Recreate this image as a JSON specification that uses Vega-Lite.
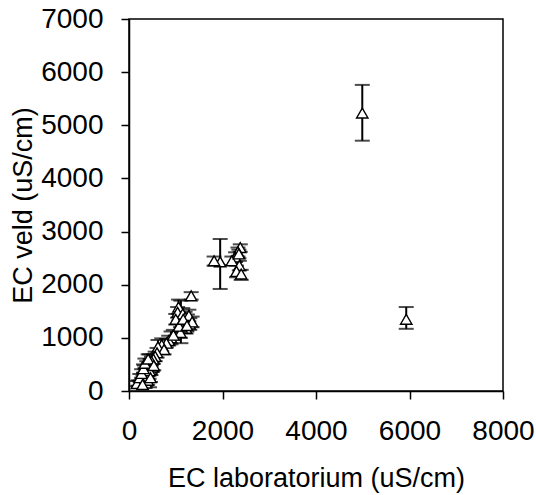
{
  "$schema": "https://vega.github.io/schema/vega-lite/v6.json",
  "autosize": "none",
  "width": 374,
  "height": 372,
  "padding": {"left": 129, "top": 19, "right": 33, "bottom": 104},
  "background": "white",
  "config": {
    "font": "Liberation Sans",
    "view": {"stroke": "black", "strokeWidth": 1.5},
    "axis": {
      "grid": false,
      "domainColor": "black",
      "domainWidth": 1.5,
      "tickColor": "black",
      "tickWidth": 1.5,
      "tickSize": 8,
      "labelColor": "black",
      "labelFont": "Liberation Sans",
      "labelFontSize": 28,
      "titleFont": "Liberation Sans",
      "titleFontSize": 27,
      "titleFontWeight": "normal",
      "titleColor": "black",
      "labelFlush": false,
      "labelOverlap": false,
      "format": "d"
    }
  },
  "data": {
    "values": [
      {"lab": 4990, "veld": 5230, "lo": 4710, "hi": 5760},
      {"lab": 5930, "veld": 1350, "lo": 1170, "hi": 1580},
      {"lab": 1950, "veld": 2430, "lo": 1920, "hi": 2860},
      {"lab": 1820, "veld": 2450, "lo": 2360, "hi": 2530},
      {"lab": 2380, "veld": 2700, "lo": 2620, "hi": 2760},
      {"lab": 2330, "veld": 2620, "lo": 2530, "hi": 2700},
      {"lab": 2280, "veld": 2520, "lo": 2430, "hi": 2610},
      {"lab": 2200, "veld": 2450, "lo": 2370, "hi": 2530},
      {"lab": 2360, "veld": 2360, "lo": 2270, "hi": 2450},
      {"lab": 2300, "veld": 2250, "lo": 2140, "hi": 2360},
      {"lab": 2400, "veld": 2200, "lo": 2090, "hi": 2280},
      {"lab": 2350, "veld": 2580, "lo": 2500, "hi": 2660},
      {"lab": 1330, "veld": 1790, "lo": 1720, "hi": 1860},
      {"lab": 1060, "veld": 1580, "lo": 1450, "hi": 1720},
      {"lab": 1110, "veld": 1300, "lo": 900, "hi": 1700},
      {"lab": 1040, "veld": 1480, "lo": 1380, "hi": 1580},
      {"lab": 1150, "veld": 1450, "lo": 1340, "hi": 1560},
      {"lab": 1200, "veld": 1380, "lo": 1270, "hi": 1490},
      {"lab": 1180, "veld": 1250, "lo": 1140, "hi": 1360},
      {"lab": 1250, "veld": 1320, "lo": 1200, "hi": 1440},
      {"lab": 1300, "veld": 1260, "lo": 1150, "hi": 1370},
      {"lab": 1220, "veld": 1180, "lo": 1080, "hi": 1280},
      {"lab": 1120, "veld": 1200, "lo": 1100, "hi": 1300},
      {"lab": 1280, "veld": 1420, "lo": 1310, "hi": 1530},
      {"lab": 1350, "veld": 1300, "lo": 1200, "hi": 1400},
      {"lab": 1100, "veld": 1100, "lo": 1000, "hi": 1200},
      {"lab": 1000, "veld": 1350, "lo": 1250, "hi": 1450},
      {"lab": 900, "veld": 1000, "lo": 880, "hi": 1120},
      {"lab": 850, "veld": 950, "lo": 860, "hi": 1040},
      {"lab": 950, "veld": 1050, "lo": 960, "hi": 1150},
      {"lab": 800, "veld": 900, "lo": 820, "hi": 980},
      {"lab": 700, "veld": 870, "lo": 750, "hi": 990},
      {"lab": 620, "veld": 830, "lo": 720, "hi": 960},
      {"lab": 750, "veld": 780, "lo": 690, "hi": 870},
      {"lab": 600, "veld": 720, "lo": 630, "hi": 810},
      {"lab": 560, "veld": 650, "lo": 560, "hi": 740},
      {"lab": 520, "veld": 600, "lo": 510, "hi": 690},
      {"lab": 480, "veld": 560, "lo": 480, "hi": 650},
      {"lab": 450, "veld": 520, "lo": 440, "hi": 600},
      {"lab": 420, "veld": 450, "lo": 370, "hi": 530},
      {"lab": 400, "veld": 380, "lo": 310, "hi": 450},
      {"lab": 380, "veld": 480, "lo": 400, "hi": 560},
      {"lab": 350, "veld": 330, "lo": 260, "hi": 400},
      {"lab": 320, "veld": 280, "lo": 210, "hi": 350},
      {"lab": 300, "veld": 230, "lo": 170, "hi": 290},
      {"lab": 280, "veld": 180, "lo": 130, "hi": 230},
      {"lab": 250, "veld": 150, "lo": 100, "hi": 200},
      {"lab": 200, "veld": 150, "lo": 100, "hi": 200},
      {"lab": 170, "veld": 140, "lo": 90, "hi": 190},
      {"lab": 360, "veld": 150, "lo": 80, "hi": 220},
      {"lab": 400, "veld": 200, "lo": 120, "hi": 280},
      {"lab": 470, "veld": 400, "lo": 300, "hi": 500},
      {"lab": 500, "veld": 450, "lo": 360, "hi": 540},
      {"lab": 430, "veld": 300, "lo": 230, "hi": 370},
      {"lab": 330, "veld": 400, "lo": 320, "hi": 480},
      {"lab": 380, "veld": 260, "lo": 190, "hi": 330},
      {"lab": 440, "veld": 380, "lo": 70, "hi": 690},
      {"lab": 230, "veld": 250, "lo": 180, "hi": 320},
      {"lab": 270, "veld": 330, "lo": 250, "hi": 410},
      {"lab": 310, "veld": 420, "lo": 340, "hi": 500},
      {"lab": 340, "veld": 520, "lo": 430, "hi": 610},
      {"lab": 410, "veld": 600, "lo": 510, "hi": 690},
      {"lab": 460, "veld": 250, "lo": 170, "hi": 330},
      {"lab": 530, "veld": 480, "lo": 390, "hi": 570},
      {"lab": 290, "veld": 120, "lo": 70, "hi": 170},
      {"lab": 1070, "veld": 1220, "lo": 1110, "hi": 1330},
      {"lab": 1160, "veld": 1350, "lo": 1240, "hi": 1460},
      {"lab": 1240, "veld": 1230, "lo": 1120, "hi": 1340}
    ]
  },
  "encoding": {
    "x": {
      "field": "lab",
      "type": "quantitative",
      "title": "EC laboratorium (uS/cm)",
      "scale": {"domain": [0, 8000], "nice": false, "zero": true},
      "axis": {"values": [0, 2000, 4000, 6000, 8000], "labelPadding": 18, "titlePadding": 20}
    }
  },
  "layer": [
    {
      "mark": {"type": "rule", "color": "black", "strokeWidth": 2},
      "encoding": {
        "y": {
          "field": "lo",
          "type": "quantitative",
          "title": "EC veld (uS/cm)",
          "scale": {"domain": [0, 7000], "nice": false},
          "axis": {"values": [0, 1000, 2000, 3000, 4000, 5000, 6000, 7000], "labelPadding": 18, "titlePadding": 3}
        },
        "y2": {"field": "hi"}
      }
    },
    {
      "mark": {"type": "tick", "orient": "horizontal", "color": "black", "size": 15, "thickness": 2},
      "encoding": {"y": {"field": "lo", "type": "quantitative"}}
    },
    {
      "mark": {"type": "tick", "orient": "horizontal", "color": "black", "size": 15, "thickness": 2},
      "encoding": {"y": {"field": "hi", "type": "quantitative"}}
    },
    {
      "mark": {"type": "point", "shape": "triangle-up", "filled": true, "fill": "white", "stroke": "black", "strokeWidth": 1.4, "size": 130, "opacity": 1},
      "encoding": {"y": {"field": "veld", "type": "quantitative"}}
    }
  ]
}
